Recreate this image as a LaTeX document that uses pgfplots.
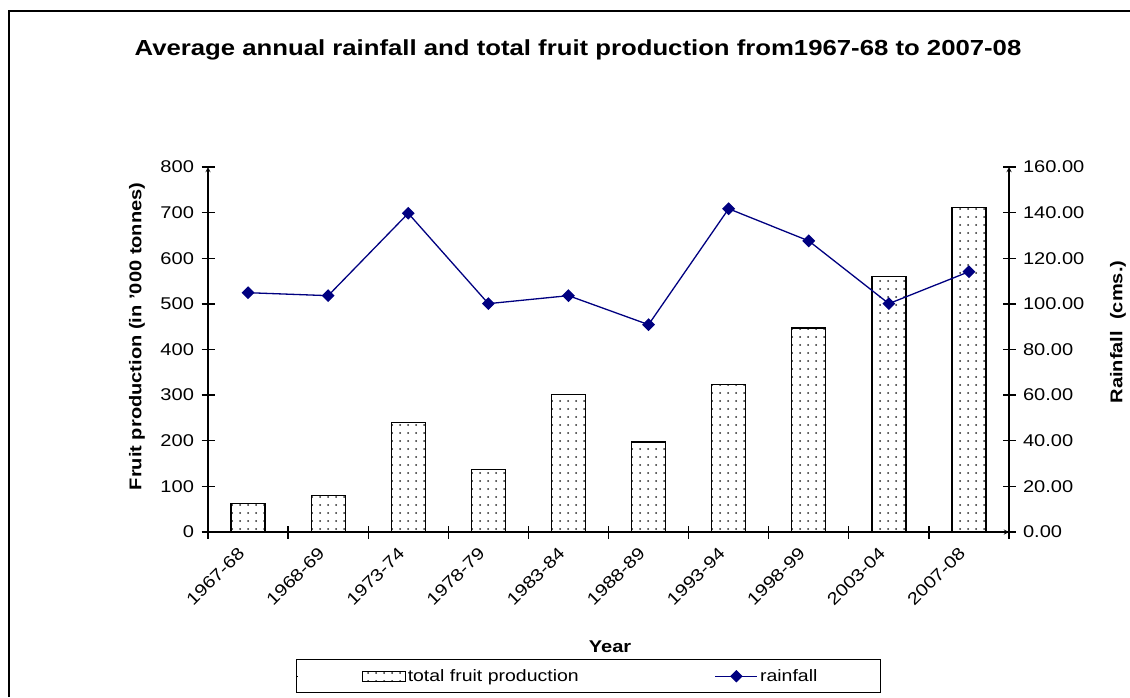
\documentclass[border=0pt]{standalone}
\usepackage{fontspec}
\setmainfont{Liberation Sans}[FakeStretch=1.18]
\usepackage{pgfplots}
\pgfplotsset{compat=1.18}
\usetikzlibrary{patterns.meta}
\definecolor{navyline}{RGB}{0,0,128}
\pgfplotsset{
  common/.style={
    scale only axis, width=801pt, height=365pt,
    at={(208pt,165pt)}, anchor=south west,
    xmin=-0.5, xmax=9.5,
    tick align=center,
    major tick length=13pt,
    axis line style={line width=1.3pt,-},
    every tick/.style={line width=1.3pt, black},
    /pgf/number format/assume math mode=true,
    tick label style={font=\fontsize{17}{20}\selectfont},
  },
  rainleg/.style={
    legend image code/.code={\draw[navyline, line width=1.3pt] (2pt,0pt) -- (44pt,0pt);
      \draw[navyline, fill=navyline] (23pt,0pt) ++(-5.5pt,0pt) -- ++(5.5pt,5.5pt) -- ++(5.5pt,-5.5pt) -- ++(-5.5pt,-5.5pt) -- cycle;}
  },
  barleg/.style={
    legend image code/.code={
      \path (0pt,0pt) -- (1pt,0pt);
      \draw[black, line width=1pt, pattern={Dots[distance=8pt,radius=1pt]}, pattern color=black!85] (65pt,-5pt) rectangle (108pt,5pt);}
  }
}
\begin{document}
\begin{tikzpicture}[x=1pt,y=1pt]
\useasboundingbox (0,0) rectangle (1130,697);
\draw[line width=1.3pt] (9,0) -- (9,686) -- (1130,686);
\node[font=\fontsize{21.8}{25}\selectfont\bfseries] at (578,647) {Average annual rainfall and total fruit production from1967-68 to 2007-08};
\begin{axis}[common,
  axis x line=bottom, axis y line=left,
  ymin=0, ymax=800, ytick={0,100,...,800},
  xtick={-0.5,0.5,...,9.5},
  xticklabels={},
  extra x ticks={0,1,2,3,4,5,6,7,8,9},
  extra x tick labels={1967-68,1968-69,1973-74,1978-79,1983-84,1988-89,1993-94,1998-99,2003-04,2007-08},
  extra x tick style={major tick length=0pt},
  xticklabel style={xshift=-11pt, yshift=-14pt, rotate=45, anchor=north east, inner sep=0pt},
  yticklabel style={xshift=-4pt},
  ylabel={Fruit production (in '000 tonnes)},
  ylabel style={at={(axis description cs:-0.0886,0.536)}, anchor=center, font=\fontsize{17}{20}\selectfont\bfseries},
  xlabel={Year},
  xlabel style={at={(axis description cs:0.502,-0.315)}, anchor=center, font=\fontsize{17}{20}\selectfont\bfseries},
  legend style={at={(axis description cs:0.11,-0.348)}, anchor=north west,
    draw=black, line width=1pt, inner xsep=0pt, inner ysep=8pt,
    font=\fontsize{16.5}{19}\selectfont, legend columns=2,
    cells={anchor=west}},
]
\addplot[ybar, bar width=34pt, draw=black, line width=1.3pt,
  pattern={Dots[distance=8pt,radius=1pt]}, pattern color=black!85, barleg
] coordinates {
(0,63) (1,80) (2,240) (3,137) (4,302) (5,197) (6,324) (7,447) (8,560) (9,712)
};
\addlegendentry{\makebox[305pt][l]{total fruit production}}
\addlegendimage{rainleg}
\addlegendentry{\makebox[118pt][l]{rainfall}}
\end{axis}
\begin{axis}[common,
  axis x line=none, axis y line=right,
  ymin=0, ymax=160, ytick={0,20,...,160},
  yticklabel style={xshift=4pt, /pgf/number format/fixed, /pgf/number format/fixed zerofill, /pgf/number format/precision=2},
  ylabel={Rainfall\ \ (cms.)},
  ylabel style={at={(axis description cs:1.136,0.548)}, anchor=center, rotate=0, font=\fontsize{17}{20}\selectfont\bfseries},
]
\addplot[navyline, line width=1.3pt, mark=square*, mark size=3.9pt, mark options={rotate=45}] coordinates {
(0,104.9) (1,103.6) (2,139.7) (3,100.1) (4,103.6) (5,90.9) (6,141.7) (7,127.6) (8,100.1) (9,114.1)
};
\end{axis}
\end{tikzpicture}
\end{document}
